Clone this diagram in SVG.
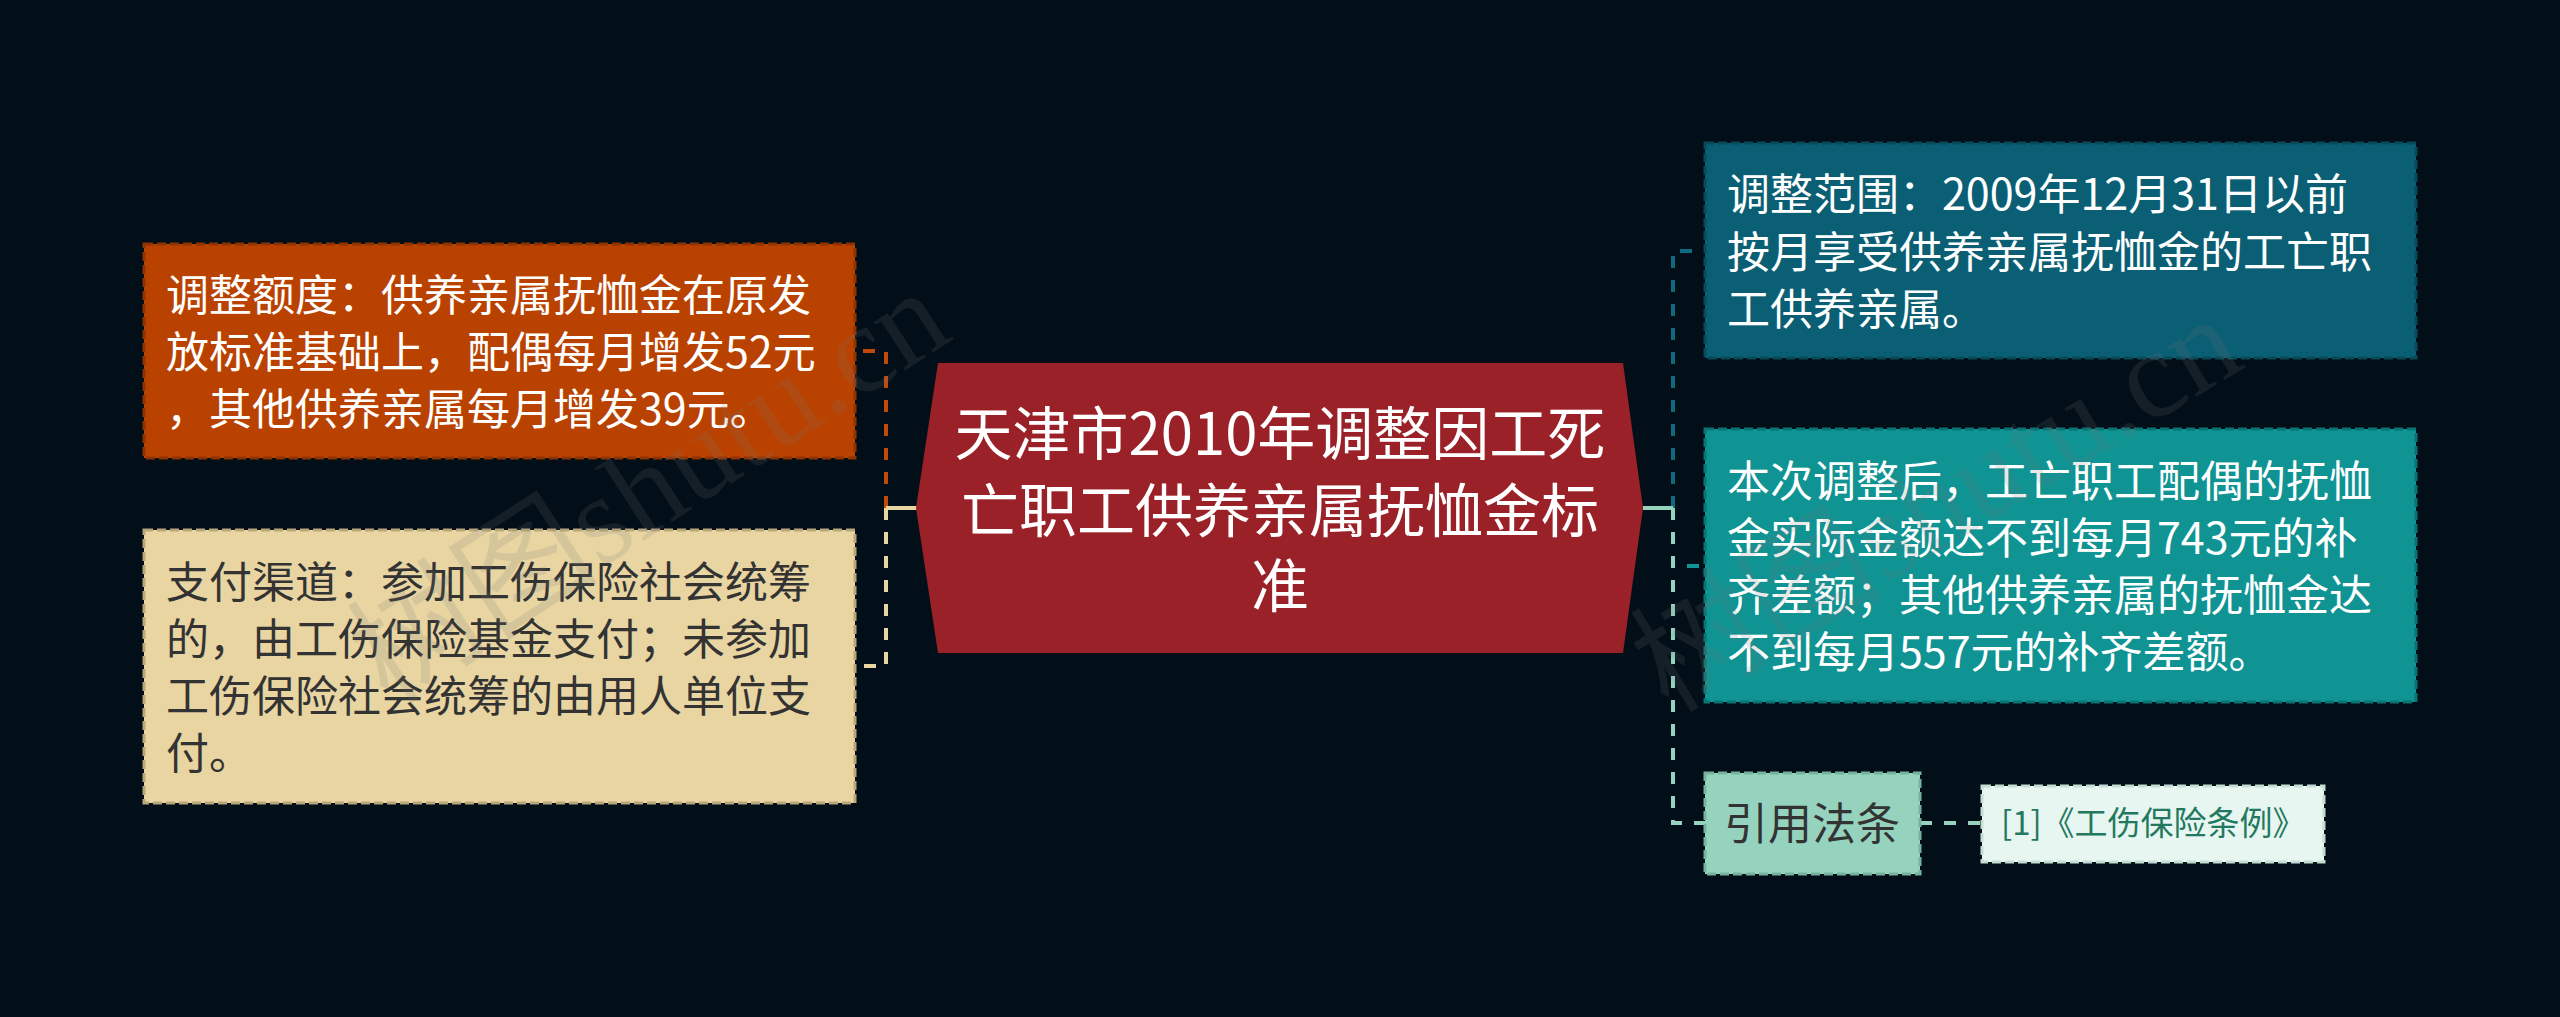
<svg xmlns="http://www.w3.org/2000/svg" width="2560" height="1017" viewBox="0 0 2560 1017">
<style>
text{font-family:"Noto Sans CJK SC","Microsoft YaHei",sans-serif}
.t44{font-size:43px}
.w{fill:#ffffff}
.d{fill:#333333}
.box{stroke-width:3;stroke-dasharray:9 4}
.c{fill:none;stroke-width:4;stroke-dasharray:12 12}
.stub{stroke-width:4}
.wm{font-family:"Liberation Serif","Noto Sans CJK SC",serif;font-size:126px;fill:#777777;fill-opacity:0.16}
</style>
<rect width="2560" height="1017" fill="#030f18"/>
<g id="connectors">
<path class="c" d="M886 508 V351 H855" stroke="#c04a0c"/>
<path class="c" d="M886 508 V666 H855" stroke="#e8d5a2"/>
<line class="stub" x1="917" y1="508" x2="886" y2="508" stroke="#e8d5a2"/>
<path class="c" d="M1673 508 V251 H1705" stroke="#0e6a80"/>
<path class="c" d="M1673 508 V566 H1705" stroke="#0f9393"/>
<path class="c" d="M1673 508 V823 H1705" stroke="#96d3bf"/>
<line class="stub" x1="1643" y1="508" x2="1673" y2="508" stroke="#96d3bf"/>
<path class="c" d="M1920 823 H1982" stroke="#96d3bf"/>
</g>
<g id="root">
<polygon points="938,363 1623,363 1643,508 1623,653 938,653 916,508" fill="#9b2128"/>
<text class="w" font-size="58" text-anchor="middle"><tspan x="1280" y="455">天津市2010年调整因工死</tspan><tspan x="1280" y="532">亡职工供养亲属抚恤金标</tspan><tspan x="1280" y="607">准</tspan></text>
</g>
<g id="node-amount">
<rect class="box" x="144" y="244" width="711" height="214" fill="#ba4200" stroke="#8f3300"/>
<text class="w t44"><tspan x="166" y="311">调整额度：供养亲属抚恤金在原发</tspan><tspan x="166" y="368">放标准基础上，配偶每月增发52元</tspan><tspan x="166" y="425">，其他供养亲属每月增发39元。</tspan></text>
</g>
<g id="node-payment">
<rect class="box" x="144" y="530" width="711" height="273" fill="#e8d5a2" stroke="#b9a67a"/>
<text class="d t44"><tspan x="166" y="598">支付渠道：参加工伤保险社会统筹</tspan><tspan x="166" y="655">的，由工伤保险基金支付；未参加</tspan><tspan x="166" y="712">工伤保险社会统筹的由用人单位支</tspan><tspan x="166" y="769">付。</tspan></text>
</g>
<g id="node-scope">
<rect class="box" x="1705" y="143" width="711" height="215" fill="#0b5f74" stroke="#084a5a"/>
<text class="w t44"><tspan x="1727" y="210">调整范围：2009年12月31日以前</tspan><tspan x="1727" y="268">按月享受供养亲属抚恤金的工亡职</tspan><tspan x="1727" y="325">工供养亲属。</tspan></text>
</g>
<g id="node-after">
<rect class="box" x="1705" y="429" width="711" height="273" fill="#0f9393" stroke="#0a7474"/>
<text class="w t44"><tspan x="1727" y="497">本次调整后，工亡职工配偶的抚恤</tspan><tspan x="1727" y="554">金实际金额达不到每月743元的补</tspan><tspan x="1727" y="611">齐差额；其他供养亲属的抚恤金达</tspan><tspan x="1727" y="668">不到每月557元的补齐差额。</tspan></text>
</g>
<g id="node-law">
<rect class="box" x="1705" y="773" width="215" height="101" fill="#96d3bf" stroke="#76b39f"/>
<text class="d" font-size="44" x="1812" y="840" text-anchor="middle">引用法条</text>
</g>
<g id="node-law-ref">
<rect class="box" x="1982" y="786" width="342" height="76" fill="#e8f6f1" stroke="#c3ddd3"/>
<text x="2001" y="835" font-size="33" fill="#23795f">[1]《工伤保险条例》</text>
</g>
<g id="watermark">
<text class="wm" transform="translate(672 522) rotate(-33)" text-anchor="middle">树图shutu.cn</text>
<text class="wm" transform="translate(1958 540) rotate(-31)" text-anchor="middle">树图shutu.cn</text>
</g>
</svg>
